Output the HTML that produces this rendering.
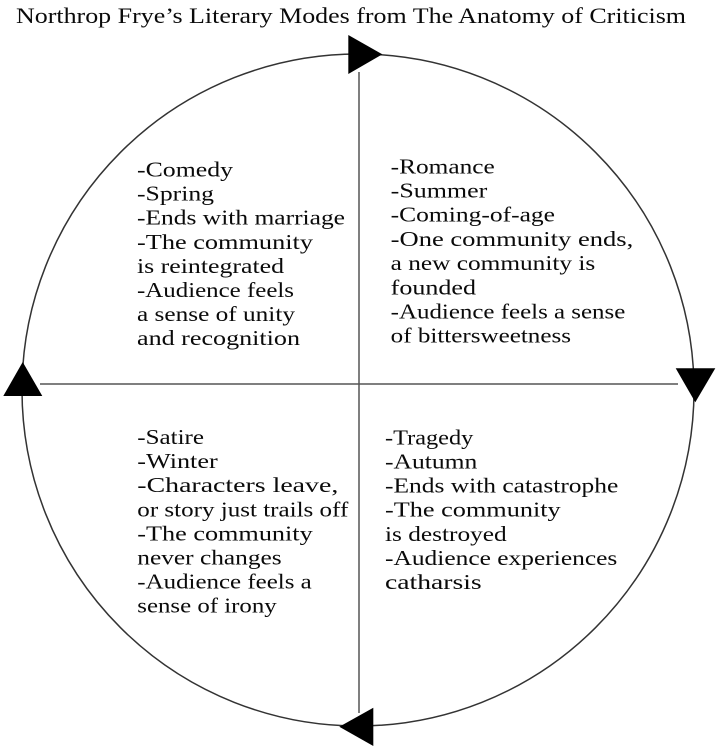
<!DOCTYPE html>
<html>
<head>
<meta charset="utf-8">
<style>
  html, body { margin: 0; padding: 0; background: #fff; }
  svg { display: block; }
  text { font-family: "Liberation Serif", "DejaVu Serif", serif; fill: #0a0a0a; }
</style>
</head>
<body>
<svg width="718" height="750" viewBox="0 0 718 750" xmlns="http://www.w3.org/2000/svg">
  <rect width="718" height="750" fill="#fff"/>

  <!-- Title -->
  <text x="16" y="23" font-size="22" textLength="670" lengthAdjust="spacingAndGlyphs">Northrop Frye’s Literary Modes from The Anatomy of Criticism</text>

  <!-- Circle -->
  <circle cx="358" cy="390" r="336" fill="none" stroke="#333" stroke-width="1.5"/>

  <!-- Axes -->
  <line x1="359" y1="72" x2="359" y2="713" stroke="#555" stroke-width="1.5"/>
  <line x1="40" y1="384" x2="678" y2="384" stroke="#555" stroke-width="1.5"/>

  <!-- Arrowheads -->
  <polygon points="348.3,35 348.3,74 382.3,54.3" fill="#000"/>
  <polygon points="675.7,368.3 715.3,368.3 695.3,402.3" fill="#000"/>
  <polygon points="339.3,726.7 373.3,707.7 373.3,746" fill="#000"/>
  <polygon points="22.7,362 3.3,396 42.3,396" fill="#000"/>

  <!-- Top-left: Comedy -->
  <g font-size="21">
    <text x="137" y="176.5" textLength="96" lengthAdjust="spacingAndGlyphs">-Comedy</text>
    <text x="137" y="200.6" textLength="77" lengthAdjust="spacingAndGlyphs">-Spring</text>
    <text x="137" y="224.7" textLength="208" lengthAdjust="spacingAndGlyphs">-Ends with marriage</text>
    <text x="137" y="248.8" textLength="176" lengthAdjust="spacingAndGlyphs">-The community</text>
    <text x="137" y="272.9" textLength="147" lengthAdjust="spacingAndGlyphs">is reintegrated</text>
    <text x="137" y="297" textLength="157" lengthAdjust="spacingAndGlyphs">-Audience feels</text>
    <text x="137" y="321.1" textLength="158" lengthAdjust="spacingAndGlyphs">a sense of unity</text>
    <text x="137" y="345.2" textLength="163" lengthAdjust="spacingAndGlyphs">and recognition</text>
  </g>

  <!-- Top-right: Romance -->
  <g font-size="21">
    <text x="390.7" y="173.3" textLength="104" lengthAdjust="spacingAndGlyphs">-Romance</text>
    <text x="390.7" y="197.5" textLength="96.6" lengthAdjust="spacingAndGlyphs">-Summer</text>
    <text x="390.7" y="221.7" textLength="164.3" lengthAdjust="spacingAndGlyphs">-Coming-of-age</text>
    <text x="390.7" y="245.9" textLength="242.6" lengthAdjust="spacingAndGlyphs">-One community ends,</text>
    <text x="390.7" y="270.1" textLength="204.6" lengthAdjust="spacingAndGlyphs">a new community is</text>
    <text x="390.7" y="294.3" textLength="85.3" lengthAdjust="spacingAndGlyphs">founded</text>
    <text x="390.7" y="318.5" textLength="234.6" lengthAdjust="spacingAndGlyphs">-Audience feels a sense</text>
    <text x="390.7" y="342.7" textLength="180.3" lengthAdjust="spacingAndGlyphs">of bittersweetness</text>
  </g>

  <!-- Bottom-left: Satire -->
  <g font-size="21">
    <text x="137.3" y="444" textLength="66.7" lengthAdjust="spacingAndGlyphs">-Satire</text>
    <text x="137.3" y="468.1" textLength="80.4" lengthAdjust="spacingAndGlyphs">-Winter</text>
    <text x="137.3" y="492.2" textLength="201" lengthAdjust="spacingAndGlyphs">-Characters leave,</text>
    <text x="137.3" y="516.3" textLength="211" lengthAdjust="spacingAndGlyphs">or story just trails off</text>
    <text x="137.3" y="540.4" textLength="175.4" lengthAdjust="spacingAndGlyphs">-The community</text>
    <text x="137.3" y="564.5" textLength="144.4" lengthAdjust="spacingAndGlyphs">never changes</text>
    <text x="137.3" y="588.6" textLength="174.4" lengthAdjust="spacingAndGlyphs">-Audience feels a</text>
    <text x="137.3" y="612.7" textLength="139.4" lengthAdjust="spacingAndGlyphs">sense of irony</text>
  </g>

  <!-- Bottom-right: Tragedy -->
  <g font-size="21">
    <text x="385" y="444.4" textLength="88.3" lengthAdjust="spacingAndGlyphs">-Tragedy</text>
    <text x="385" y="468.5" textLength="92.3" lengthAdjust="spacingAndGlyphs">-Autumn</text>
    <text x="385" y="492.6" textLength="233.3" lengthAdjust="spacingAndGlyphs">-Ends with catastrophe</text>
    <text x="385" y="516.7" textLength="175.7" lengthAdjust="spacingAndGlyphs">-The community</text>
    <text x="385" y="540.8" textLength="121.7" lengthAdjust="spacingAndGlyphs">is destroyed</text>
    <text x="385" y="564.9" textLength="232.3" lengthAdjust="spacingAndGlyphs">-Audience experiences</text>
    <text x="385" y="589" textLength="96.7" lengthAdjust="spacingAndGlyphs">catharsis</text>
  </g>
</svg>
</body>
</html>
